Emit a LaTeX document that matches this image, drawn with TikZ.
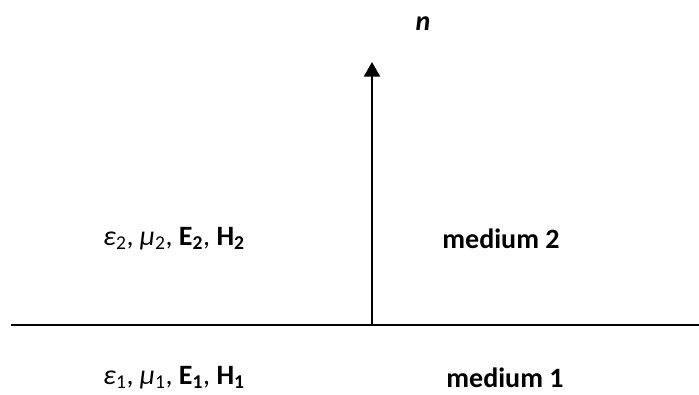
\documentclass[tikz,border=0pt]{standalone}
\usepackage{fontspec}
\setmainfont{Carlito}
\usetikzlibrary{arrows.meta,positioning}
\tikzset{
  bnd/.style   = {line width=1.6pt, black},
  nrm/.style   = {-{Triangle[length=11pt,width=12pt]}, line width=1.8pt, black},
  lbl/.style   = {font=\fontsize{21}{25}\selectfont, inner sep=0pt},
  med/.style   = {font=\fontsize{21}{25}\selectfont\bfseries, inner sep=0pt},
}
\newcommand{\prm}[1]{\textit{ε}\textsubscript{#1}, \textit{μ}\textsubscript{#1}, \textbf{E\textsubscript{#1}}, \textbf{H\textsubscript{#1}}}
\begin{document}
\begin{tikzpicture}[x=0.75pt,y=-0.75pt]
\useasboundingbox (0,0) rectangle (699,394);
% interface and normal
\coordinate (bl) at (11,325);
\coordinate (br) at (699,325);
\coordinate (o)  at (372,325);
\coordinate (tip) at (372,62);
\draw[bnd] (bl) -- (br);
\draw[nrm] (o) -- (tip);
\node[lbl, font=\fontsize{21}{25}\selectfont\bfseries\itshape] (n) at (423,24) {n};

% medium 2
\node[lbl] (p2) at (174,239) {\prm{2}};
\node[med] (m2) at (501,239) {medium 2};

% medium 1
\node[lbl] (p1) at (174,378) {\prm{1}};
\node[med] (m1) at (505,378) {medium 1};
\end{tikzpicture}
\end{document}
